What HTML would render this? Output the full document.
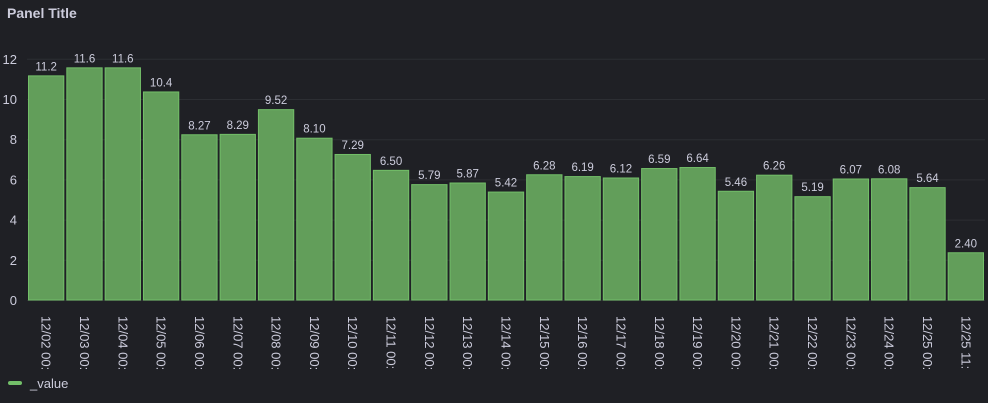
<!DOCTYPE html>
<html><head><meta charset="utf-8"><style>
body{margin:0;background:#181b1f;}
#panel{position:relative;width:988px;height:403px;background:#1f2025;overflow:hidden;font-family:"Liberation Sans",sans-serif;}
#title{position:absolute;left:7px;top:5px;color:#ccccdc;font-size:14px;font-weight:bold;}
svg text{font-family:"Liberation Sans",sans-serif;}
</style></head><body>
<div id="panel">
<div id="title">Panel Title</div>
<svg id="chart" width="988" height="403" style="position:absolute;left:0;top:0"></svg>
</div>
<script>
const categories=["12/02 00:","12/03 00:","12/04 00:","12/05 00:","12/06 00:","12/07 00:","12/08 00:","12/09 00:","12/10 00:","12/11 00:","12/12 00:","12/13 00:","12/14 00:","12/15 00:","12/16 00:","12/17 00:","12/18 00:","12/19 00:","12/20 00:","12/21 00:","12/22 00:","12/23 00:","12/24 00:","12/25 00:","12/25 11:"];
const values=[11.2,11.6,11.6,10.4,8.27,8.29,9.52,8.10,7.29,6.50,5.79,5.87,5.42,6.28,6.19,6.12,6.59,6.64,5.46,6.26,5.19,6.07,6.08,5.64,2.40];
const yTicks=[0,2,4,6,8,10,12];
const NS="http://www.w3.org/2000/svg";
const svg=document.getElementById('chart');
const x0=27,x1=985,yBase=300.5,yTop=59.3,yMax=12;
const slot=(x1-x0)/categories.length;
function xPos(i){return x0+i*slot;}
function yPos(v){return yBase-(v/yMax)*(yBase-yTop);}
function mk(tag,attrs){const e=document.createElementNS(NS,tag);for(const k in attrs)e.setAttribute(k,attrs[k]);svg.appendChild(e);return e;}
yTicks.forEach(t=>{
  const l=mk('line',{x1:x0,x2:x1,y1:yPos(t),y2:yPos(t),stroke:'#2c2e33','stroke-width':1});
  
  
  const tx=mk('text',{x:17,y:yPos(t)+4.5,'text-anchor':'end',fill:'#ccccdc','font-size':13});
  tx.textContent=t;
  
  
});
values.forEach((v,i)=>{
  const bx=xPos(i)+1,bw=slot-2,by=yPos(v);
  const r=mk('rect',{x:bx+0.5,y:by+0.5,width:bw-1,height:yBase-by-1,fill:'#629e5a',stroke:'#73bf69','stroke-width':1});
  
  
  const t=mk('text',{x:bx+bw/2,y:by-5,'text-anchor':'middle',fill:'#ccccdc','font-size':11.5});
  t.textContent=v.toPrecision(3);
  
  
  const cx=bx+bw/2;
  const c=mk('text',{x:cx,y:316,transform:'rotate(90 '+(cx)+' 316)',fill:'#ccccdc','font-size':13,'dominant-baseline':'middle'});
  c.setAttribute('x',cx);c.setAttribute('y',316);
  c.setAttribute('transform','translate('+(cx-4.5)+',316) rotate(90)');
  c.setAttribute('x',0);c.setAttribute('y',0);
  c.removeAttribute('dominant-baseline');
  c.textContent=categories[i];
  
  
});
const lg=mk('rect',{x:8,y:381,width:14,height:4,rx:2,fill:'#73bf69'});


const lt=mk('text',{x:30,y:388,fill:'#ccccdc','font-size':13});
lt.textContent='_value';


</script>
</body></html>
